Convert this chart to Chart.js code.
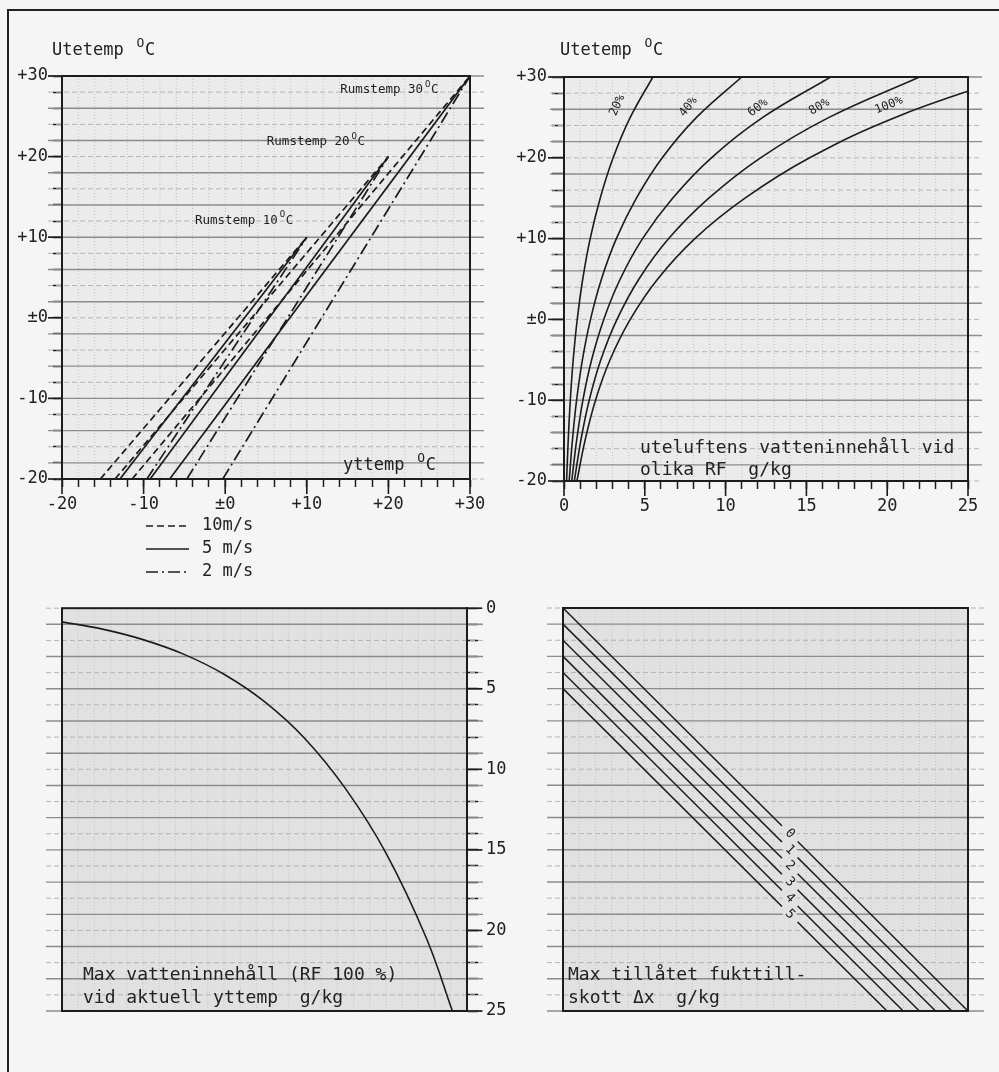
<!DOCTYPE html>
<html>
<head>
<meta charset="utf-8">
<title>Utetemp / yttemp / vatteninnehåll</title>
<script src="https://cdn.jsdelivr.net/npm/chart.js"></script>
<style>
    body { margin: 0; background: #f5f5f5; }
    #page { position: relative; width: 999px; height: 1072px; overflow: hidden; }
    #frame { position: absolute; left: 7px; top: 9px; width: 1010px; height: 1090px;
             border-top: 2px solid #222; border-left: 2px solid #222; }
    canvas { position: absolute; }
</style>
</head>
<body>
<div id="page">
    <div id="frame"></div>
    <canvas id="c1" width="500" height="590" style="left:0;top:0"></canvas>
    <canvas id="c2" width="499" height="590" style="left:500px;top:0"></canvas>
    <canvas id="c3" width="530" height="482" style="left:0;top:590px"></canvas>
    <canvas id="c4" width="499" height="482" style="left:500px;top:590px"></canvas>
</div>

<script>
    // --- panel 1: yttemp (x) where each line meets utetemp -20, per room temp
    const rumstemp = [10, 20, 30];
    const utetempMin = -20;
    const ytVid10ms = [-15.3, -13.5, -11.4];
    const ytVid5ms = [-12.9, -9.2, -6.8];
    const ytVid2ms = [-9.6, -4.7, -0.3];
    const tempTickValues = [-20, -10, 0, 10, 20, 30];
    const tempTickLabels = ['-20', '-10', '±0', '+10', '+20', '+30'];

    // --- panel 2: water content g/kg at utetemp, per RF
    const rfTemp = [-20, -15, -10, -5, 0, 5, 10, 15, 20, 25, 30];
    const rf20 = [0.16, 0.26, 0.39, 0.57, 0.82, 1.16, 1.62, 2.24, 3.04, 4.1, 5.5];
    const rf40 = [0.32, 0.52, 0.78, 1.14, 1.64, 2.32, 3.24, 4.48, 6.08, 8.2, 11.0];
    const rf60 = [0.48, 0.78, 1.17, 1.71, 2.46, 3.48, 4.86, 6.72, 9.12, 12.3, 16.5];
    const rf80 = [0.64, 1.04, 1.56, 2.28, 3.28, 4.64, 6.48, 8.96, 12.16, 16.4, 22.0];
    const rf100 = [0.8, 1.3, 1.95, 2.85, 4.1, 5.8, 8.1, 11.2, 15.2, 20.5, 27.6];
    const rfNames = ['20%', '40%', '60%', '80%', '100%'];
    const gkgTickValues = [0, 5, 10, 15, 20, 25];

    // --- panel 3: max water content (RF 100 %) at yttemp
    const maxTemp = [-20, -15, -10, -5, 0, 5, 10, 15, 20, 25, 28.2];
    const maxVatten = [0.85, 1.3, 1.95, 2.85, 4.1, 5.8, 8.1, 11.2, 15.2, 20.5, 25.0];

    // --- panel 4: allowed moisture addition lines
    const deltaX = [0, 1, 2, 3, 4, 5];
    const dxStartY = [0, 1, 2, 3, 4, 5];       // value on left edge (x = 0)
    const dxEndX = [25, 24, 23, 22, 21, 20];   // value on bottom edge (y = 25)

    const FONT = "'DejaVu Sans Mono', monospace";
    const INK = '#1c1c1c';
    Chart.defaults.font.family = FONT;
    Chart.defaults.color = '#222';

    const windStyles = [
        { label: '10m/s', dash: [7, 4], yt: ytVid10ms },
        { label: '5 m/s', dash: [], yt: ytVid5ms },
        { label: '2 m/s', dash: [12, 4, 2, 4], yt: ytVid2ms }
    ];

    function line(ctx, x1, y1, x2, y2) {
        ctx.beginPath(); ctx.moveTo(x1, y1); ctx.lineTo(x2, y2); ctx.stroke();
    }

    function degText(ctx, pre, x, y, size) {
        ctx.font = size + 'px ' + FONT;
        ctx.fillText(pre, x, y);
        let w = ctx.measureText(pre).width + size * 0.15;
        ctx.font = Math.round(size * 0.75) + 'px ' + FONT;
        ctx.fillText('O', x + w, y - size * 0.42);
        w += ctx.measureText('O').width + size * 0.05;
        ctx.font = size + 'px ' + FONT;
        ctx.fillText('C', x + w, y);
    }

    // graph paper background, frame and long major ticks
    const paper = {
        id: 'paper',
        beforeDatasetsDraw(chart, args, o) {
            const ctx = chart.ctx, a = chart.chartArea;
            const xs = chart.scales.x, ys = chart.scales.y;
            ctx.save();
            ctx.fillStyle = o.fill;
            ctx.fillRect(a.left, a.top, a.width, a.height);
            ctx.lineWidth = 1;
            ctx.strokeStyle = '#c3c3c3';
            ctx.setLineDash([1, 2]);
            for (let v = xs.min + o.xStep; v < xs.max; v += o.xStep) {
                const px = xs.getPixelForValue(v);
                line(ctx, px, a.top, px, a.bottom);
            }
            let k = 0;
            for (let v = ys.min; v <= ys.max + 1e-9; v += o.yStep, k++) {
                const py = ys.getPixelForValue(v);
                if (k % 2 === 1) {
                    ctx.setLineDash([]); ctx.strokeStyle = '#8c8c8c'; ctx.lineWidth = 1.4;
                } else {
                    ctx.setLineDash([5, 3]); ctx.strokeStyle = '#b4b4b4'; ctx.lineWidth = 1;
                }
                line(ctx, a.left - o.ext, py, a.right + o.ext, py);
            }
            ctx.restore();
        },
        afterDraw(chart, args, o) {
            const ctx = chart.ctx, a = chart.chartArea;
            ctx.save();
            ctx.strokeStyle = INK;
            ctx.lineWidth = 2;
            ctx.strokeRect(a.left, a.top, a.width, a.height);
            ctx.lineWidth = 1.6;
            const xs = chart.scales.x, ys = chart.scales.y;
            if (o.majorX && xs.options.display) {
                for (let v = xs.min; v <= xs.max; v += o.majorX[0]) {
                    const px = xs.getPixelForValue(v);
                    line(ctx, px, a.bottom, px, a.bottom + o.majorX[1]);
                }
            }
            if (o.majorY && ys.options.display) {
                for (let v = ys.min; v <= ys.max; v += o.majorY[0]) {
                    const py = ys.getPixelForValue(v);
                    if (ys.options.position === 'right') line(ctx, a.right, py, a.right + o.majorY[1], py);
                    else line(ctx, a.left - o.majorY[1], py, a.left, py);
                }
            }
            ctx.restore();
        }
    };

    function axis(min, max, step, labelFor, tickLen, pad, fit) {
        return {
            type: 'linear', min: min, max: max,
            ticks: { stepSize: step, autoSkip: false, maxTicksLimit: 200, maxRotation: 0,
                     padding: pad, font: { size: 17 }, color: '#222', callback: labelFor },
            grid: { drawOnChartArea: false, tickLength: tickLen, tickColor: INK, tickWidth: 1.5 },
            border: { color: INK, width: 2 },
            afterFit: fit
        };
    }
    const tempLabel = v => { const i = tempTickValues.indexOf(v); return i >= 0 ? tempTickLabels[i] : ''; };
    const gkgLabel = v => gkgTickValues.includes(v) ? String(v) : '';

    // ---------------- chart 1: utetemp vs yttemp ----------------
    const datasets1 = [];
    windStyles.forEach(w => {
        rumstemp.forEach((r, i) => {
            datasets1.push({
                label: w.label + ' ' + r,
                data: [{ x: w.yt[i], y: utetempMin }, { x: r, y: r }],
                borderColor: INK, borderWidth: 1.7, borderDash: w.dash,
                pointRadius: 0, tension: 0
            });
        });
    });

    new Chart(document.getElementById('c1'), {
        type: 'line',
        data: { datasets: datasets1 },
        options: {
            responsive: false, animation: false, devicePixelRatio: 1,
            layout: { padding: { top: 76, left: 0, right: 30, bottom: 71 } },
            plugins: { legend: { display: false }, tooltip: { enabled: false },
                       paper: { fill: '#ebebeb', xStep: 2, yStep: 2, ext: 14, majorX: [10, 15], majorY: [10, 14] } },
            scales: {
                x: axis(-20, 30, 2, tempLabel, 8, 7, s => { s.height = 40; }),
                y: axis(-20, 30, 2, tempLabel, 9, 5, s => { s.width = 62; })
            }
        },
        plugins: [paper, {
            id: 'notes1',
            afterDatasetsDraw(chart) {
                const ctx = chart.ctx, xs = chart.scales.x, ys = chart.scales.y;
                const roomPos = [[-3.7, 12.1], [5.1, 21.8], [14.1, 28.3]];
                ctx.save();
                ctx.fillStyle = '#222';
                ctx.textBaseline = 'middle';
                ctx.textAlign = 'left';
                rumstemp.forEach((r, i) => {
                    degText(ctx, 'Rumstemp ' + r, xs.getPixelForValue(roomPos[i][0]), ys.getPixelForValue(roomPos[i][1]), 12.5);
                });
                degText(ctx, 'yttemp ', 343, 466, 17);
                degText(ctx, 'Utetemp ', 52, 51, 17);
                ctx.strokeStyle = INK;
                ctx.lineWidth = 1.6;
                windStyles.forEach((w, i) => {
                    const y = 526 + i * 23;
                    ctx.setLineDash(w.dash);
                    line(ctx, 146, y, 189, y);
                    ctx.setLineDash([]);
                    ctx.font = '17px ' + FONT;
                    ctx.fillText(w.label, 202, y);
                });
                ctx.restore();
            }
        }]
    });

    // ---------------- chart 2: RF curves ----------------
    const rfSeries = [rf20, rf40, rf60, rf80, rf100];
    new Chart(document.getElementById('c2'), {
        type: 'line',
        data: {
            datasets: rfSeries.map((s, j) => ({
                label: rfNames[j],
                data: s.map((g, i) => ({ x: g, y: rfTemp[i] })),
                borderColor: INK, borderWidth: 1.6, pointRadius: 0,
                tension: 0.4
            }))
        },
        options: {
            responsive: false, animation: false, devicePixelRatio: 1,
            layout: { padding: { top: 77, left: 0, right: 31, bottom: 69 } },
            plugins: { legend: { display: false }, tooltip: { enabled: false },
                       paper: { fill: '#ebebeb', xStep: 1, yStep: 2, ext: 14, majorX: [5, 15], majorY: [10, 16] } },
            scales: {
                x: axis(0, 25, 1, gkgLabel, 8, 7, s => { s.height = 40; }),
                y: axis(-20, 30, 2, tempLabel, 12, 5, s => { s.width = 64; })
            }
        },
        plugins: [paper, {
            id: 'notes2',
            afterDatasetsDraw(chart) {
                const ctx = chart.ctx, xs = chart.scales.x, ys = chart.scales.y;
                const rfPos = [[3.3, 26.5, -66], [7.7, 26.3, -52], [12.0, 26.2, -38], [15.8, 26.3, -30], [20.1, 26.5, -22]];
                ctx.save();
                ctx.fillStyle = '#222';
                ctx.textBaseline = 'middle';
                ctx.textAlign = 'center';
                ctx.font = '12px ' + FONT;
                rfNames.forEach((n, i) => {
                    ctx.save();
                    ctx.translate(xs.getPixelForValue(rfPos[i][0]), ys.getPixelForValue(rfPos[i][1]));
                    ctx.rotate(rfPos[i][2] * Math.PI / 180);
                    ctx.fillText(n, 0, 0);
                    ctx.restore();
                });
                ctx.textAlign = 'left';
                degText(ctx, 'Utetemp ', 60, 51, 17);
                ctx.font = '18px ' + FONT;
                ctx.fillText('uteluftens vatteninnehåll vid', 140, 448);
                ctx.fillText('olika RF  g/kg', 140, 470);
                ctx.restore();
            }
        }]
    });

    // ---------------- chart 3: max water content ----------------
    new Chart(document.getElementById('c3'), {
        type: 'line',
        data: {
            datasets: [{
                label: 'Max vatteninnehåll',
                data: maxTemp.map((t, i) => ({ x: t, y: maxVatten[i] })),
                borderColor: INK, borderWidth: 1.6, pointRadius: 0,
                tension: 0.4
            }]
        },
        options: {
            responsive: false, animation: false, devicePixelRatio: 1,
            layout: { padding: { top: 18, left: 62, right: 3, bottom: 61 } },
            plugins: { legend: { display: false }, tooltip: { enabled: false },
                       paper: { fill: '#e1e1e1', xStep: 2, yStep: 1, ext: 16, majorY: [5, 15] } },
            scales: {
                x: { type: 'linear', min: -20, max: 30, display: false },
                y: Object.assign(axis(0, 25, 1, gkgLabel, 11, 8, s => { s.width = 60; }),
                                 { position: 'right', reverse: true })
            }
        },
        plugins: [paper, {
            id: 'notes3',
            afterDatasetsDraw(chart) {
                const ctx = chart.ctx;
                ctx.save();
                ctx.fillStyle = '#222';
                ctx.textBaseline = 'middle';
                ctx.font = '18px ' + FONT;
                ctx.fillText('Max vatteninnehåll (RF 100 %)', 83, 385);
                ctx.fillText('vid aktuell yttemp  g/kg', 83, 408);
                ctx.restore();
            }
        }]
    });

    // ---------------- chart 4: delta x lines ----------------
    new Chart(document.getElementById('c4'), {
        type: 'line',
        data: {
            datasets: deltaX.map((d, i) => ({
                label: String(d),
                data: [{ x: 0, y: dxStartY[i] }, { x: dxEndX[i], y: 25 }],
                borderColor: INK, borderWidth: 1.5, pointRadius: 0
            }))
        },
        options: {
            responsive: false, animation: false, devicePixelRatio: 1,
            layout: { padding: { top: 18, left: 63, right: 31, bottom: 61 } },
            plugins: { legend: { display: false }, tooltip: { enabled: false },
                       paper: { fill: '#e1e1e1', xStep: 1, yStep: 1, ext: 16 } },
            scales: {
                x: { type: 'linear', min: 0, max: 25, display: false },
                y: { type: 'linear', min: 0, max: 25, reverse: true, display: false }
            }
        },
        plugins: [paper, {
            id: 'notes4',
            afterDatasetsDraw(chart) {
                const ctx = chart.ctx, xs = chart.scales.x, ys = chart.scales.y;
                ctx.save();
                ctx.fillStyle = '#222';
                ctx.textBaseline = 'middle';
                ctx.textAlign = 'center';
                ctx.font = '13px ' + FONT;
                deltaX.forEach((d, i) => {
                    ctx.save();
                    ctx.translate(xs.getPixelForValue(14), ys.getPixelForValue(dxStartY[i] + 14));
                    ctx.rotate(Math.PI / 4);
                    ctx.fillStyle = '#e1e1e1';
                    ctx.fillRect(-11, -5, 22, 10);
                    ctx.fillStyle = '#222';
                    ctx.fillText(String(d), 0, 0);
                    ctx.restore();
                });
                ctx.textAlign = 'left';
                ctx.font = '18px ' + FONT;
                ctx.fillText('Max tillåtet fukttill-', 68, 385);
                ctx.fillText('skott Δx  g/kg', 68, 408);
                ctx.restore();
            }
        }]
    });
</script>
</body>
</html>
